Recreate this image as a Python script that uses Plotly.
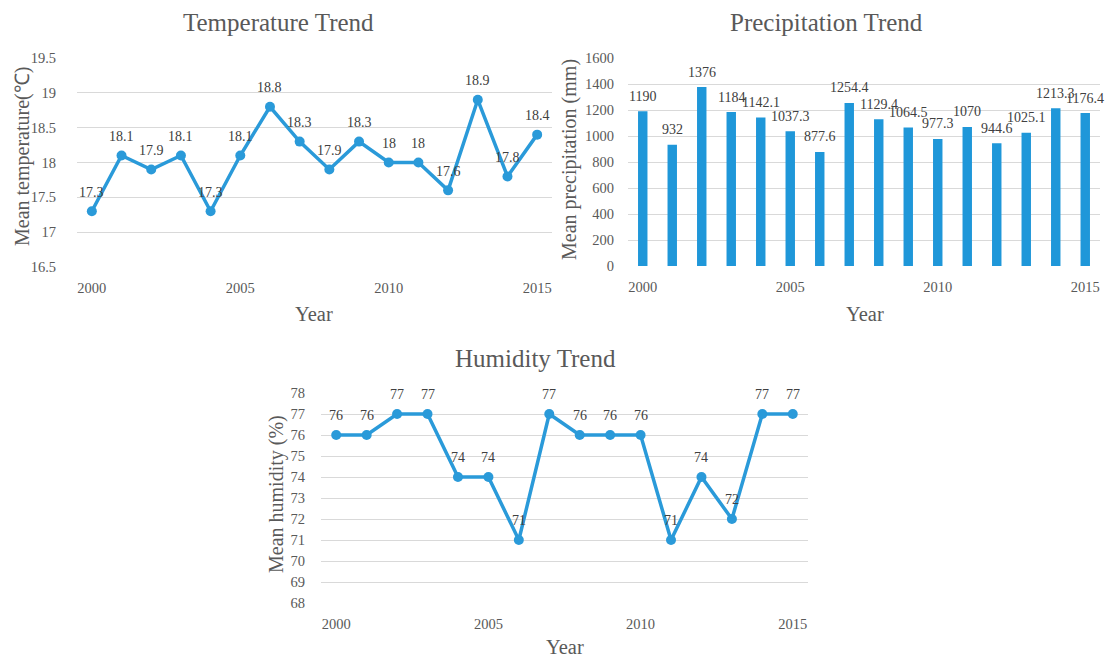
import plotly.graph_objects as go

years = list(range(2000, 2016))
temperature = [17.3, 18.1, 17.9, 18.1, 17.3, 18.1, 18.8, 18.3, 17.9, 18.3, 18.0, 18.0, 17.6, 18.9, 17.8, 18.4]
precipitation = [1190, 932, 1376, 1184, 1142.1, 1037.3, 877.6, 1254.4, 1129.4, 1064.5, 977.3, 1070, 944.6, 1025.1, 1213.3, 1176.4]
humidity = [76, 76, 77, 77, 74, 74, 71, 77, 76, 76, 76, 71, 74, 72, 77, 77]
year_ticks = [2000, 2005, 2010, 2015]

W, H = 1111, 657
FONT = "Liberation Serif"
TXT = "#595959"
LBL = "#404040"
GRID = "#d9d9d9"
BLUE = "#2a9ad9"
BAR = "#1f97d9"


def px(x):
    return x / W


def py(y):
    return 1 - y / H


fig = go.Figure()

fig.add_trace(go.Scatter(x=years, y=temperature, mode="lines+markers",
                         line=dict(color=BLUE, width=3.5), marker=dict(size=10, color=BLUE),
                         xaxis="x", yaxis="y", showlegend=False, cliponaxis=False))
fig.add_trace(go.Bar(x=years, y=precipitation, marker=dict(color=BAR, line=dict(width=0)),
                     width=0.32, xaxis="x2", yaxis="y2", showlegend=False))
fig.add_trace(go.Scatter(x=years, y=humidity, mode="lines+markers",
                         line=dict(color=BLUE, width=3.5), marker=dict(size=10, color=BLUE),
                         xaxis="x3", yaxis="y3", showlegend=False, cliponaxis=False))

tickfont = dict(family=FONT, size=14.5, color=TXT)


def xaxis(dom, anchor):
    return dict(domain=dom, range=[1999.5, 2015.5], tickvals=year_ticks, showgrid=False,
                zeroline=False, showline=False, ticks="", tickfont=tickfont, ticklabelstandoff=10,
                anchor=anchor, fixedrange=True)


def yaxis(dom, rng, dtick, standoff, anchor):
    return dict(domain=dom, range=rng, dtick=dtick, showgrid=True, gridcolor=GRID, gridwidth=1.2,
                zeroline=False, showline=False, ticks="", tickfont=tickfont,
                ticklabelstandoff=standoff, anchor=anchor, fixedrange=True)


annotations = []


def label(xref, yref, x, y, text, yshift):
    annotations.append(dict(xref=xref, yref=yref, x=x, y=y, text=text, showarrow=False,
                            yshift=yshift, font=dict(family=FONT, size=14, color=LBL)))


def fmt(v):
    return "%g" % v


for x, v in zip(years, temperature):
    label("x", "y", x, v, fmt(v), 19)
for x, v in zip(years, precipitation):
    label("x2", "y2", x, v, fmt(v), 15)
for x, v in zip(years, humidity):
    label("x3", "y3", x, v, fmt(v), 20)


def ptext(x, y, text, size, angle=0, color=TXT):
    annotations.append(dict(xref="paper", yref="paper", x=px(x), y=py(y), text=text,
                            showarrow=False, textangle=angle, xanchor="center", yanchor="middle",
                            font=dict(family=FONT, size=size, color=color)))


ptext(278, 23, "Temperature Trend", 25)
ptext(827, 23, "Precipitation Trend", 25)
ptext(535, 358, "Humidity Trend", 25)

ptext(22, 157, "Mean temperature(℃)", 20, -90)
ptext(569, 160, "Mean precipitation (mm)", 20, -90)
ptext(276, 494, "Mean humidity (%)", 20, -90)

ptext(314, 314, "Year", 20.5)
ptext(865, 314, "Year", 20.5)
ptext(565, 647, "Year", 20.5)

fig.update_layout(
    width=W, height=H,
    margin=dict(l=0, r=0, t=0, b=0, autoexpand=False),
    paper_bgcolor="white", plot_bgcolor="white",
    xaxis=xaxis([px(77), px(552)], "y"),
    yaxis=yaxis([py(267), py(58)], [16.5, 19.5], 0.5, 20, "x"),
    xaxis2=xaxis([px(628), px(1100)], "y2"),
    yaxis2=yaxis([py(266), py(58)], [0, 1600], 200, 13, "x2"),
    xaxis3=xaxis([px(321), px(808)], "y3"),
    yaxis3=yaxis([py(603), py(393)], [68, 78], 1, 15, "x3"),
    annotations=annotations,
)

fig.write_html("out.html", config={"displayModeBar": False},
               post_script="document.body.style.margin='0';document.body.style.overflow='hidden';")
